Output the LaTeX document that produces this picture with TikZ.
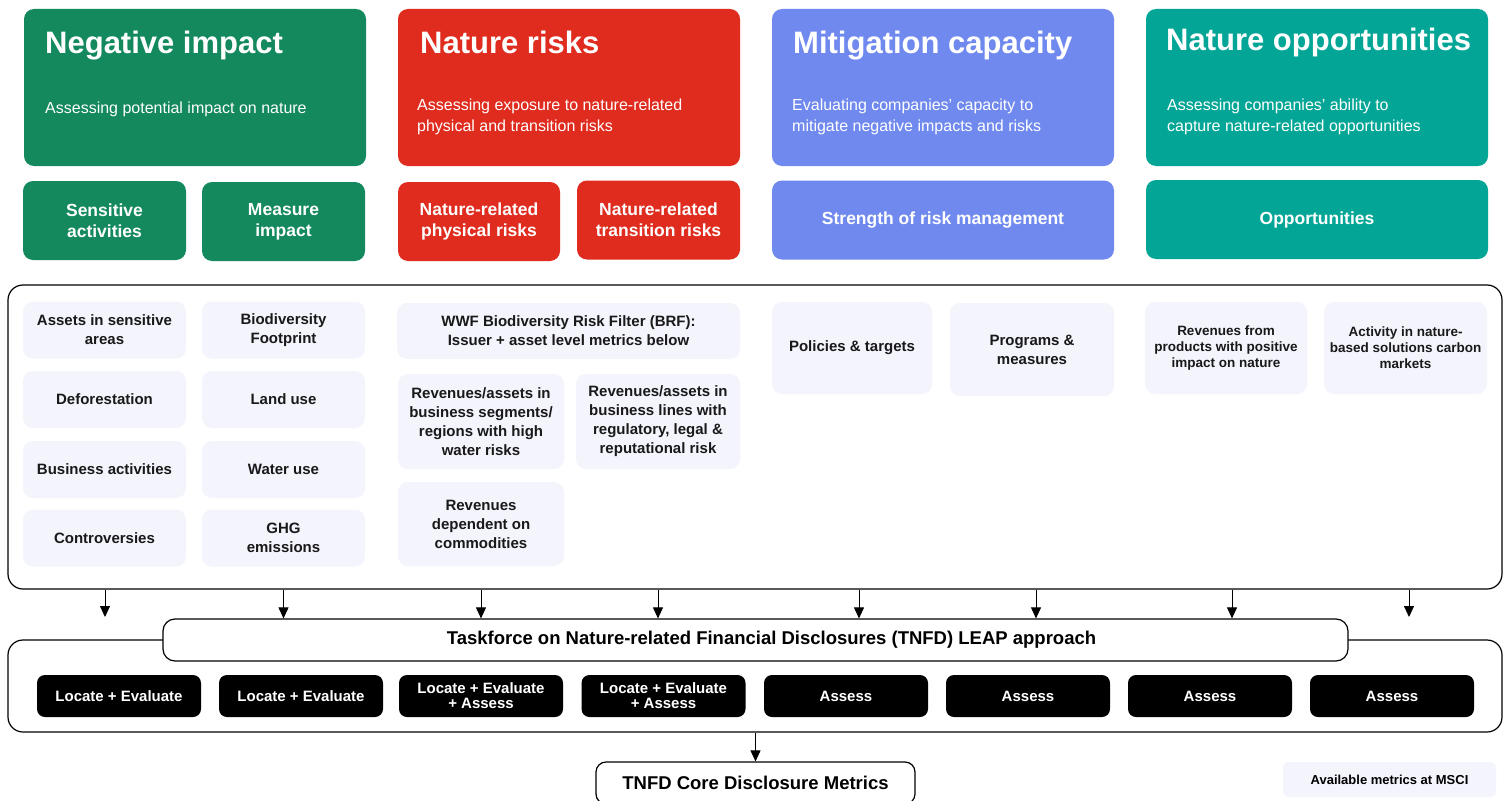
\documentclass[tikz,border=0pt]{standalone}
\usepackage{fontspec}
\setmainfont{Liberation Sans}
\usetikzlibrary{arrows.meta}
\definecolor{cgreen}{HTML}{13895D}
\definecolor{cred}{HTML}{DF2C1E}
\definecolor{cblue}{HTML}{7089EE}
\definecolor{cteal}{HTML}{03A696}
\definecolor{clight}{HTML}{F4F5FC}
\begin{document}
\begin{tikzpicture}[x=1pt,y=-1pt,
 card/.style={rounded corners=10pt, inner sep=0pt},
 title/.style={anchor=base west, text=white, font=\fontsize{31}{36}\selectfont\bfseries, inner sep=0pt},
 sub/.style={anchor=base west, text=white, align=left, font=\fontsize{16}{21}\selectfont, inner sep=0pt},
 head/.style={card, text=white, align=center, font=\fontsize{17.5}{21}\selectfont\bfseries},
 metric/.style={card, fill=clight, align=center, text=black!90, font=\fontsize{15}{19}\selectfont\bfseries},
 smallm/.style={font=\fontsize{13.5}{16}\selectfont\bfseries},
 blk/.style={rounded corners=8pt, fill=black, text=white, align=center, minimum width=164pt, minimum height=42pt, font=\fontsize{15}{15}\selectfont\bfseries, inner sep=0pt},
 frame/.style={draw=black, line width=1.2pt, rounded corners=15pt},
 arr/.style={line width=0.9pt, -{Triangle[width=10pt,length=11pt]}},
]
\useasboundingbox (0,0) rectangle (1509,800);
\clip (0,0) rectangle (1509,800);
\fill[white] (0,0) rectangle (1509,800);

% top cards
\node[card, fill=cgreen, minimum width=342pt, minimum height=157pt] (neg) at (195,87.5) {};
\node[card, fill=cred, minimum width=342pt, minimum height=157pt] (risk) at (569,87.5) {};
\node[card, fill=cblue, minimum width=342pt, minimum height=157pt] (mit) at (943,87.5) {};
\node[card, fill=cteal, minimum width=342pt, minimum height=157pt] (opp) at (1317,87.5) {};

\node[title] (negT) at (45,54) {Negative impact};
\node[title] (riskT) at (420,54) {Nature risks};
\node[title] (mitT) at (793,53) {Mitigation capacity};
\node[title] (oppT) at (1166,51) {Nature opportunities};

\node[sub] (negS) at (45,113) {Assessing potential impact on nature};
\node[sub] (riskS) at (417,131) {Assessing exposure to nature-related\\physical and transition risks};
\node[sub] (mitS) at (792,131) {Evaluating companies’ capacity to\\mitigate negative impacts and risks};
\node[sub] (oppS) at (1167,131) {Assessing companies’ ability to\\capture nature-related opportunities};

% second row
\node[head, fill=cgreen, minimum width=163pt, minimum height=79pt] (sens) at (104.5,220.5) {Sensitive\\activities};
\node[head, fill=cgreen, minimum width=163pt, minimum height=79pt] (meas) at (283.5,221.5) {Measure\\impact};
\node[head, fill=cred, minimum width=162pt, minimum height=79pt] (phys) at (479,221.5) {Nature-related\\physical risks};
\node[head, fill=cred, minimum width=163pt, minimum height=79pt] (trans) at (658.5,220) {Nature-related\\transition risks};
\node[head, fill=cblue, minimum width=342pt, minimum height=79pt] (strength) at (943,220) {Strength of risk management};
\node[head, fill=cteal, minimum width=342pt, minimum height=79pt] (opps) at (1317,219.5) {Opportunities};

% big frame
\node[frame, minimum width=1494pt, minimum height=304pt, inner sep=0pt] (big) at (755,437) {};

% metrics
\node[metric, minimum width=163pt, minimum height=57pt] (m11) at (104.5,330) {Assets in sensitive\\areas};
\node[metric, minimum width=163pt, minimum height=57pt] (m12) at (104.5,399.5) {Deforestation};
\node[metric, minimum width=163pt, minimum height=57pt] (m13) at (104.5,469.5) {Business activities};
\node[metric, minimum width=163pt, minimum height=57pt] (m14) at (104.5,538) {Controversies};
\node[metric, minimum width=163pt, minimum height=57pt] (m21) at (283.5,330) {Biodiversity\\Footprint};
\node[metric, minimum width=163pt, minimum height=57pt] (m22) at (283.5,399.5) {Land use};
\node[metric, minimum width=163pt, minimum height=57pt] (m23) at (283.5,469.5) {Water use};
\node[metric, minimum width=163pt, minimum height=57pt] (m24) at (283.5,538) {GHG\\emissions};

\node[metric, minimum width=343pt, minimum height=56pt] (wwf) at (568.5,331) {WWF Biodiversity Risk Filter (BRF):\\Issuer + asset level metrics below};
\node[metric, minimum width=166pt, minimum height=95pt] (revw) at (481,421.5) {Revenues/assets in\\business segments/\\regions with high\\water risks};
\node[metric, minimum width=164pt, minimum height=95pt] (revr) at (658,421.5) {Revenues/assets in\\business lines with\\regulatory, legal \&\\reputational risk};
\node[metric, minimum width=166pt, minimum height=84pt] (revc) at (481,524) {Revenues\\dependent on\\commodities};

\node[metric, minimum width=160pt, minimum height=92pt] (pol) at (852,348) {Policies \& targets};
\node[metric, minimum width=164pt, minimum height=93pt] (prog) at (1032,349.5) {Programs \&\\measures};
\node[metric, smallm, minimum width=162pt, minimum height=92pt] (revp) at (1226,348) {Revenues from\\products with positive\\impact on nature};
\node[metric, smallm, minimum width=163pt, minimum height=92pt] (act) at (1405.5,348) {Activity in nature-\\based solutions carbon\\markets};

% bottom frame + taskforce
\node[frame, minimum width=1494pt, minimum height=92pt, inner sep=0pt] (bot) at (755,686) {};
\node[draw=black, fill=white, line width=1.2pt, rounded corners=12pt, minimum width=1185pt, minimum height=42pt, inner sep=0pt, font=\fontsize{18.5}{21}\selectfont\bfseries] (tf) at (755.5,640) {\hspace*{32pt}Taskforce on Nature-related Financial Disclosures (TNFD) LEAP approach};

\node[blk] (b1) at (119,696) {Locate + Evaluate};
\node[blk] (b2) at (301,696) {Locate + Evaluate};
\node[blk] (b3) at (481,696) {Locate + Evaluate\\+ Assess};
\node[blk] (b4) at (663.5,696) {Locate + Evaluate\\+ Assess};
\node[blk] (b5) at (846,696) {Assess};
\node[blk] (b6) at (1028,696) {Assess};
\node[blk] (b7) at (1210,696) {Assess};
\node[blk] (b8) at (1392,696) {Assess};

% arrows
\coordinate (e1) at (105,617);
\coordinate (e8) at (1409,617);
\draw[arr] (big.south -| e1) -- (e1);
\draw[arr] (big.south -| meas) -- (tf.north -| meas);
\draw[arr] (big.south -| revw) -- (tf.north -| revw);
\draw[arr] (big.south -| revr) -- (tf.north -| revr);
\coordinate (c5) at (859,0);
\coordinate (c6) at (1036,0);
\coordinate (c7) at (1232,0);
\draw[arr] (big.south -| c5) -- (tf.north -| c5);
\draw[arr] (big.south -| c6) -- (tf.north -| c6);
\draw[arr] (big.south -| c7) -- (tf.north -| c7);
\draw[arr] (big.south -| e8) -- (e8);

% core
\node[draw=black, fill=white, line width=1.2pt, rounded corners=10pt, minimum width=319pt, minimum height=42pt, inner sep=0pt, font=\fontsize{18.5}{21}\selectfont\bfseries] (core) at (755.5,783) {TNFD Core Disclosure Metrics};
\draw[arr] (bot.south -| core) -- (core.north);

\node[card, fill=clight, rounded corners=6pt, minimum width=213pt, minimum height=35pt, font=\fontsize{13}{16}\selectfont\bfseries] (avail) at (1389.5,779.5) {Available metrics at MSCI};
\end{tikzpicture}
\end{document}
